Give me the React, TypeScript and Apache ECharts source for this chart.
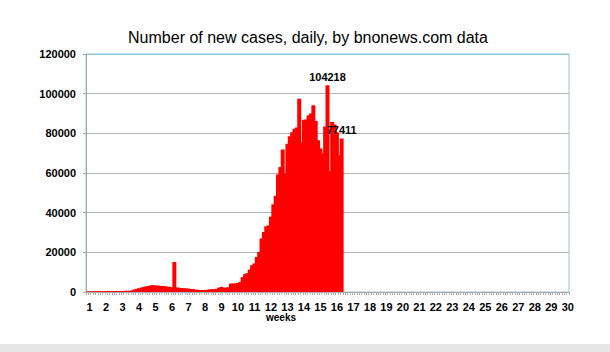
import React, { useEffect, useRef } from "react";
import * as echarts from "echarts";

const chartTitle = "Number of new cases, daily, by bnonews.com data";
const xAxisTitle = "weeks";
const weekLabels = [
  "1", "2", "3", "4", "5", "6", "7", "8", "9", "10",
  "11", "12", "13", "14", "15", "16", "17", "18", "19", "20",
  "21", "22", "23", "24", "25", "26", "27", "28", "29", "30",
];
const daysPerWeek = 7;
const totalDays = 205;
const yTicks = [0, 20000, 40000, 60000, 80000, 100000, 120000];
const labelledDays = [102, 108];

// daily new cases (day 0 = first bar)
const dailyNewCases = [
  300, 300, 300, 350, 350, 400, 400, 400, 450, 450,
  450, 500, 500, 500, 500, 550, 550, 600, 600, 700,
  1200, 1600, 1900, 2200, 2500, 2800, 3000, 3300, 3400, 3300,
  3200, 3100, 3000, 2900, 2700, 2600, 2400, 15152, 2300, 2100,
  2000, 1900, 1800, 1700, 1500, 1400, 1200, 1100, 1000, 950,
  1000, 1100, 1300, 1400, 1400, 1500, 2200, 2600, 2100, 2200,
  2400, 4200, 4300, 4300, 4500, 5100, 7500, 9000, 9500, 11300,
  13500, 14400, 17700, 20200, 27000, 30300, 33100, 33600, 38000, 44200,
  48500, 59300, 63000, 71800, 59700, 74800, 78500, 80500, 82300, 83000,
  97500, 75600, 86900, 87000, 89000, 90000, 94100, 86200, 76500, 72300,
  69800, 83500, 104218, 61000, 85700, 84500, 80600, 69000, 77411,
];

const FONT = "'Liberation Sans', Arial, sans-serif";

export default function App() {
  const ref = useRef<HTMLDivElement>(null);

  useEffect(() => {
    if (!ref.current) return;
    const chart = echarts.init(ref.current, undefined, { renderer: "svg" });

    const categories: string[] = [];
    for (let i = 0; i < totalDays; i++) categories.push(String(i));

    const seriesData = dailyNewCases.map((v, i) =>
      labelledDays.includes(i)
        ? {
            value: v,
            label: {
              show: true,
              position: "top",
              distance: 3,
              color: "#000",
              fontWeight: "bold",
              fontSize: 11,
              fontFamily: FONT,
              formatter: String(v),
            },
          }
        : v
    );

    const gridColor = "#b4b4b4";
    const borderColor = "#93c5d8";

    chart.setOption({
      animation: false,
      backgroundColor: "#ffffff",
      grid: {
        left: 86,
        top: 54,
        width: 483,
        height: 238,
        show: true,
        borderColor: borderColor,
        borderWidth: 1,
        backgroundColor: "transparent",
      },
      xAxis: {
        type: "category",
        data: categories,
        boundaryGap: true,
        axisLine: { show: true, lineStyle: { color: "#a8a8a8", width: 1 } },
        axisTick: {
          show: true,
          interval: 0,
          length: 3,
          lineStyle: { color: "#b0b0b0", width: 1 },
        },
        axisLabel: {
          show: true,
          interval: (index: number) => index % daysPerWeek === 1,
          formatter: (_v: string, index: number) =>
            weekLabels[(index - 1) / daysPerWeek] ?? "",
          color: "#000",
          fontWeight: "bold",
          fontSize: 11,
          fontFamily: FONT,
          margin: 9,
        },
        splitLine: { show: false },
      },
      yAxis: {
        type: "value",
        min: yTicks[0],
        max: yTicks[yTicks.length - 1],
        interval: yTicks[1] - yTicks[0],
        axisLine: { show: true, lineStyle: { color: "#a8a8a8", width: 1 } },
        axisTick: { show: true, length: 3, lineStyle: { color: "#a8a8a8" } },
        axisLabel: {
          color: "#000",
          fontWeight: "bold",
          fontSize: 11,
          fontFamily: FONT,
          margin: 10,
          formatter: (v: number) => String(v),
        },
        splitLine: {
          show: true,
          lineStyle: {
            color: [gridColor, gridColor, gridColor, gridColor, gridColor, gridColor, borderColor],
            width: 1,
          },
        },
      },
      series: [
        {
          type: "bar",
          data: seriesData,
          barWidth: 4,
          barCategoryGap: "0%",
          itemStyle: { color: "#ff0000" },
          emphasis: { disabled: true },
        },
      ],
      graphic: [
        {
          type: "text",
          x: 308,
          y: 37,
          style: {
            text: chartTitle,
            fill: "#000",
            font: `16px ${FONT}`,
            textAlign: "center",
            textVerticalAlign: "middle",
          },
        },
        {
          type: "text",
          x: 281,
          y: 317,
          style: {
            text: xAxisTitle,
            fill: "#000",
            font: `bold 10px ${FONT}`,
            textAlign: "center",
            textVerticalAlign: "middle",
          },
        },
        {
          type: "rect",
          shape: { x: 0, y: 344, width: 610, height: 8 },
          style: { fill: "#e6e6e6" },
          silent: true,
        },
      ],
    });

    return () => chart.dispose();
  }, []);

  return (
    <div
      ref={ref}
      style={{ position: "fixed", left: 0, top: 0, width: 610, height: 352, background: "#fff" }}
    />
  );
}
